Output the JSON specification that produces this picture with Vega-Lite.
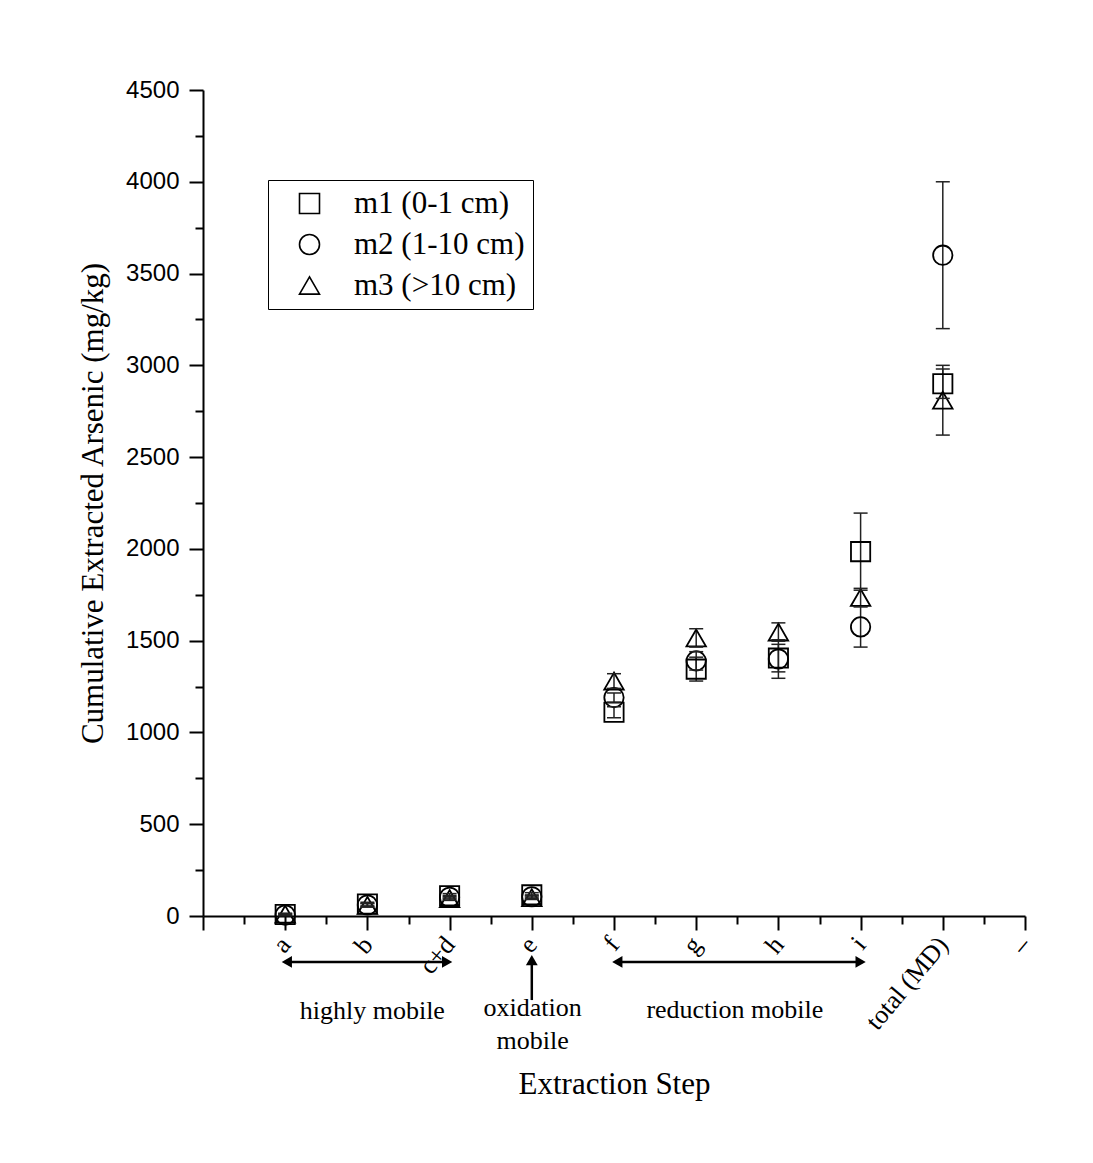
{
  "$schema": "https://vega.github.io/schema/vega-lite/v6.json",
  "autosize": {"type": "none"},
  "padding": {"left": 203, "top": 90, "right": 68, "bottom": 247},
  "width": 822,
  "height": 826,
  "background": "white",
  "config": {
    "view": {"stroke": null},
    "axis": {"grid": false, "domainColor": "black", "domainWidth": 2, "tickColor": "black", "tickWidth": 2, "labelColor": "black", "titleColor": "black"}
  },
  "datasets": {
    "pts": [
      {"step": "a", "x": 1, "series": "m1 (0-1 cm)", "value": 8, "lo": 3, "hi": 13},
      {"step": "a", "x": 1, "series": "m2 (1-10 cm)", "value": 5, "lo": 2, "hi": 8},
      {"step": "a", "x": 1, "series": "m3 (>10 cm)", "value": 10, "lo": 5, "hi": 15},
      {"step": "b", "x": 2, "series": "m1 (0-1 cm)", "value": 65, "lo": 55, "hi": 75},
      {"step": "b", "x": 2, "series": "m2 (1-10 cm)", "value": 60, "lo": 52, "hi": 68},
      {"step": "b", "x": 2, "series": "m3 (>10 cm)", "value": 58, "lo": 48, "hi": 68},
      {"step": "c+d", "x": 3, "series": "m1 (0-1 cm)", "value": 110, "lo": 98, "hi": 122},
      {"step": "c+d", "x": 3, "series": "m2 (1-10 cm)", "value": 102, "lo": 92, "hi": 112},
      {"step": "c+d", "x": 3, "series": "m3 (>10 cm)", "value": 95, "lo": 85, "hi": 105},
      {"step": "e", "x": 4, "series": "m1 (0-1 cm)", "value": 115, "lo": 103, "hi": 127},
      {"step": "e", "x": 4, "series": "m2 (1-10 cm)", "value": 105, "lo": 95, "hi": 115},
      {"step": "e", "x": 4, "series": "m3 (>10 cm)", "value": 100, "lo": 90, "hi": 110},
      {"step": "f", "x": 5, "series": "m1 (0-1 cm)", "value": 1110, "lo": 1080, "hi": 1140},
      {"step": "f", "x": 5, "series": "m2 (1-10 cm)", "value": 1190, "lo": 1165, "hi": 1215},
      {"step": "f", "x": 5, "series": "m3 (>10 cm)", "value": 1280, "lo": 1240, "hi": 1320},
      {"step": "g", "x": 6, "series": "m1 (0-1 cm)", "value": 1345, "lo": 1280, "hi": 1410},
      {"step": "g", "x": 6, "series": "m2 (1-10 cm)", "value": 1390, "lo": 1340, "hi": 1440},
      {"step": "g", "x": 6, "series": "m3 (>10 cm)", "value": 1515, "lo": 1465, "hi": 1565},
      {"step": "h", "x": 7, "series": "m1 (0-1 cm)", "value": 1405, "lo": 1330, "hi": 1480},
      {"step": "h", "x": 7, "series": "m2 (1-10 cm)", "value": 1400, "lo": 1295, "hi": 1505},
      {"step": "h", "x": 7, "series": "m3 (>10 cm)", "value": 1547, "lo": 1497, "hi": 1597},
      {"step": "i", "x": 8, "series": "m1 (0-1 cm)", "value": 1985, "lo": 1775, "hi": 2195},
      {"step": "i", "x": 8, "series": "m2 (1-10 cm)", "value": 1575, "lo": 1465, "hi": 1685},
      {"step": "i", "x": 8, "series": "m3 (>10 cm)", "value": 1735, "lo": 1685, "hi": 1785},
      {"step": "total (MD)", "x": 9, "series": "m1 (0-1 cm)", "value": 2900, "lo": 2820, "hi": 2980},
      {"step": "total (MD)", "x": 9, "series": "m2 (1-10 cm)", "value": 3600, "lo": 3200, "hi": 4000},
      {"step": "total (MD)", "x": 9, "series": "m3 (>10 cm)", "value": 2810, "lo": 2620, "hi": 3000}
    ],
    "arrows": [
      {"x": 1.02, "x2": 2.97, "y": -250, "y2": -250},
      {"x": 5.04, "x2": 8.0, "y": -250, "y2": -250},
      {"x": 4.0, "x2": 4.0, "y": -458, "y2": -240}
    ],
    "heads": [
      {"x": 1.02, "y": -250, "dir": "left"},
      {"x": 2.97, "y": -250, "dir": "right"},
      {"x": 5.04, "y": -250, "dir": "left"},
      {"x": 8.0, "y": -250, "dir": "right"},
      {"x": 4.0, "y": -240, "dir": "up"}
    ],
    "notes": [
      {"x": 2.06, "y": -517, "text": "highly mobile"},
      {"x": 4.01, "y": -501, "text": "oxidation"},
      {"x": 4.01, "y": -681, "text": "mobile"},
      {"x": 6.47, "y": -512, "text": "reduction mobile"}
    ]
  },
  "layer": [
    {
      "data": {"name": "pts"},
      "mark": {"type": "rule", "color": "#222222", "strokeWidth": 1.5},
      "encoding": {
        "x": {
          "field": "x", "type": "quantitative",
          "scale": {"domain": [0, 10], "nice": false, "zero": false},
          "axis": {
            "orient": "bottom",
            "values": [0.5, 1.5, 2.5, 3.5, 4.5, 5.5, 6.5, 7.5, 8.5, 9.5],
            "labels": false, "domain": false, "title": null, "tickSize": 8
          }
        },
        "y": {
          "field": "lo", "type": "quantitative",
          "scale": {"domain": [0, 4500], "nice": false, "zero": false},
          "axis": {
            "orient": "left",
            "values": [250, 750, 1250, 1750, 2250, 2750, 3250, 3750, 4250],
            "labels": false, "domain": false, "title": null, "tickSize": 8
          }
        },
        "y2": {"field": "hi"}
      }
    },
    {
      "data": {"name": "pts"},
      "mark": {"type": "point", "filled": false, "color": "black", "strokeWidth": 1.8, "opacity": 1},
      "encoding": {
        "x": {
          "field": "x", "type": "quantitative",
          "scale": {"domain": [0, 10], "nice": false, "zero": false},
          "axis": {
            "orient": "bottom",
            "values": [0, 1, 2, 3, 4, 5, 6, 7, 8, 9, 10],
            "labelExpr": "datum.value > 0 ? ['', 'a', 'b', 'c+d', 'e', 'f', 'g', 'h', 'i', 'total (MD)', '–'][datum.value] : ''",
            "title": "Extraction Step",
            "titleFont": "Liberation Serif", "titleFontSize": 31, "titleFontWeight": "normal",
            "titleY": 153, "titleBaseline": "top",
            "labelFont": "Liberation Serif", "labelFontSize": 26,
            "labelAngle": -50, "labelAlign": "right", "labelBaseline": "middle",
            "labelPadding": 10, "labelOverlap": false, "labelFlush": false, "labelBound": false,
            "tickSize": 14
          }
        },
        "y": {
          "field": "value", "type": "quantitative",
          "scale": {"domain": [0, 4500], "nice": false, "zero": false},
          "axis": {
            "orient": "left",
            "values": [0, 500, 1000, 1500, 2000, 2500, 3000, 3500, 4000, 4500],
            "format": "d",
            "title": "Cumulative Extracted Arsenic (mg/kg)",
            "titleFont": "Liberation Serif", "titleFontSize": 31, "titleFontWeight": "normal",
            "titlePadding": 16,
            "labelFont": "Liberation Sans", "labelFontSize": 24, "labelPadding": 10,
            "labelOverlap": false, "labelFlush": false,
            "tickSize": 14
          }
        },
        "shape": {
          "field": "series", "type": "nominal",
          "scale": {"domain": ["m1 (0-1 cm)", "m2 (1-10 cm)", "m3 (>10 cm)"], "range": ["square", "circle", "triangle-up"]},
          "legend": {
            "title": null, "orient": "none", "legendX": 65, "legendY": 90,
            "strokeColor": "black", "fillColor": "white", "padding": 8,
            "labelFont": "Liberation Serif", "labelFontSize": 31, "labelColor": "black", "labelLimit": 400,
            "rowPadding": 9, "symbolOffset": 18, "labelOffset": 29, "symbolSize": 400,
            "symbolStrokeColor": "black", "symbolStrokeWidth": 1.6, "symbolFillColor": "transparent"
          }
        },
        "size": {
          "field": "series", "type": "nominal",
          "scale": {"domain": ["m1 (0-1 cm)", "m2 (1-10 cm)", "m3 (>10 cm)"], "range": [370, 380, 620]},
          "legend": null
        }
      }
    },
    {
      "data": {"name": "pts"},
      "mark": {"type": "tick", "orient": "horizontal", "size": 14, "thickness": 1.5, "color": "#222222", "opacity": 1},
      "encoding": {
        "x": {"field": "x", "type": "quantitative", "scale": {"domain": [0, 10], "nice": false, "zero": false}, "axis": null},
        "y": {"field": "lo", "type": "quantitative", "scale": {"domain": [0, 4500], "nice": false, "zero": false}, "axis": null}
      }
    },
    {
      "data": {"name": "pts"},
      "mark": {"type": "tick", "orient": "horizontal", "size": 14, "thickness": 1.5, "color": "#222222", "opacity": 1},
      "encoding": {
        "x": {"field": "x", "type": "quantitative", "scale": {"domain": [0, 10], "nice": false, "zero": false}, "axis": null},
        "y": {"field": "hi", "type": "quantitative", "scale": {"domain": [0, 4500], "nice": false, "zero": false}, "axis": null}
      }
    },
    {
      "data": {"name": "arrows"},
      "mark": {"type": "rule", "color": "black", "strokeWidth": 2.5},
      "encoding": {
        "x": {"field": "x", "type": "quantitative", "scale": {"domain": [0, 10], "nice": false, "zero": false}, "axis": null},
        "x2": {"field": "x2"},
        "y": {"field": "y", "type": "quantitative", "scale": {"domain": [0, 4500], "nice": false, "zero": false}, "axis": null},
        "y2": {"field": "y2"}
      }
    },
    {
      "data": {"name": "heads"},
      "mark": {"type": "point", "filled": true, "color": "black", "opacity": 1, "size": 140},
      "encoding": {
        "x": {"field": "x", "type": "quantitative", "scale": {"domain": [0, 10], "nice": false, "zero": false}, "axis": null},
        "y": {"field": "y", "type": "quantitative", "scale": {"domain": [0, 4500], "nice": false, "zero": false}, "axis": null},
        "shape": {
          "field": "dir", "type": "nominal",
          "scale": {"domain": ["left", "right", "up"], "range": ["triangle-left", "triangle-right", "triangle-up"]},
          "legend": null
        }
      }
    },
    {
      "data": {"name": "notes"},
      "mark": {"type": "text", "font": "Liberation Serif", "fontSize": 26, "color": "black", "align": "center", "baseline": "middle"},
      "encoding": {
        "x": {"field": "x", "type": "quantitative", "scale": {"domain": [0, 10], "nice": false, "zero": false}, "axis": null},
        "y": {"field": "y", "type": "quantitative", "scale": {"domain": [0, 4500], "nice": false, "zero": false}, "axis": null},
        "text": {"field": "text"}
      }
    }
  ],
  "resolve": {"scale": {"shape": "independent"}, "axis": {"x": "independent", "y": "independent"}}
}
